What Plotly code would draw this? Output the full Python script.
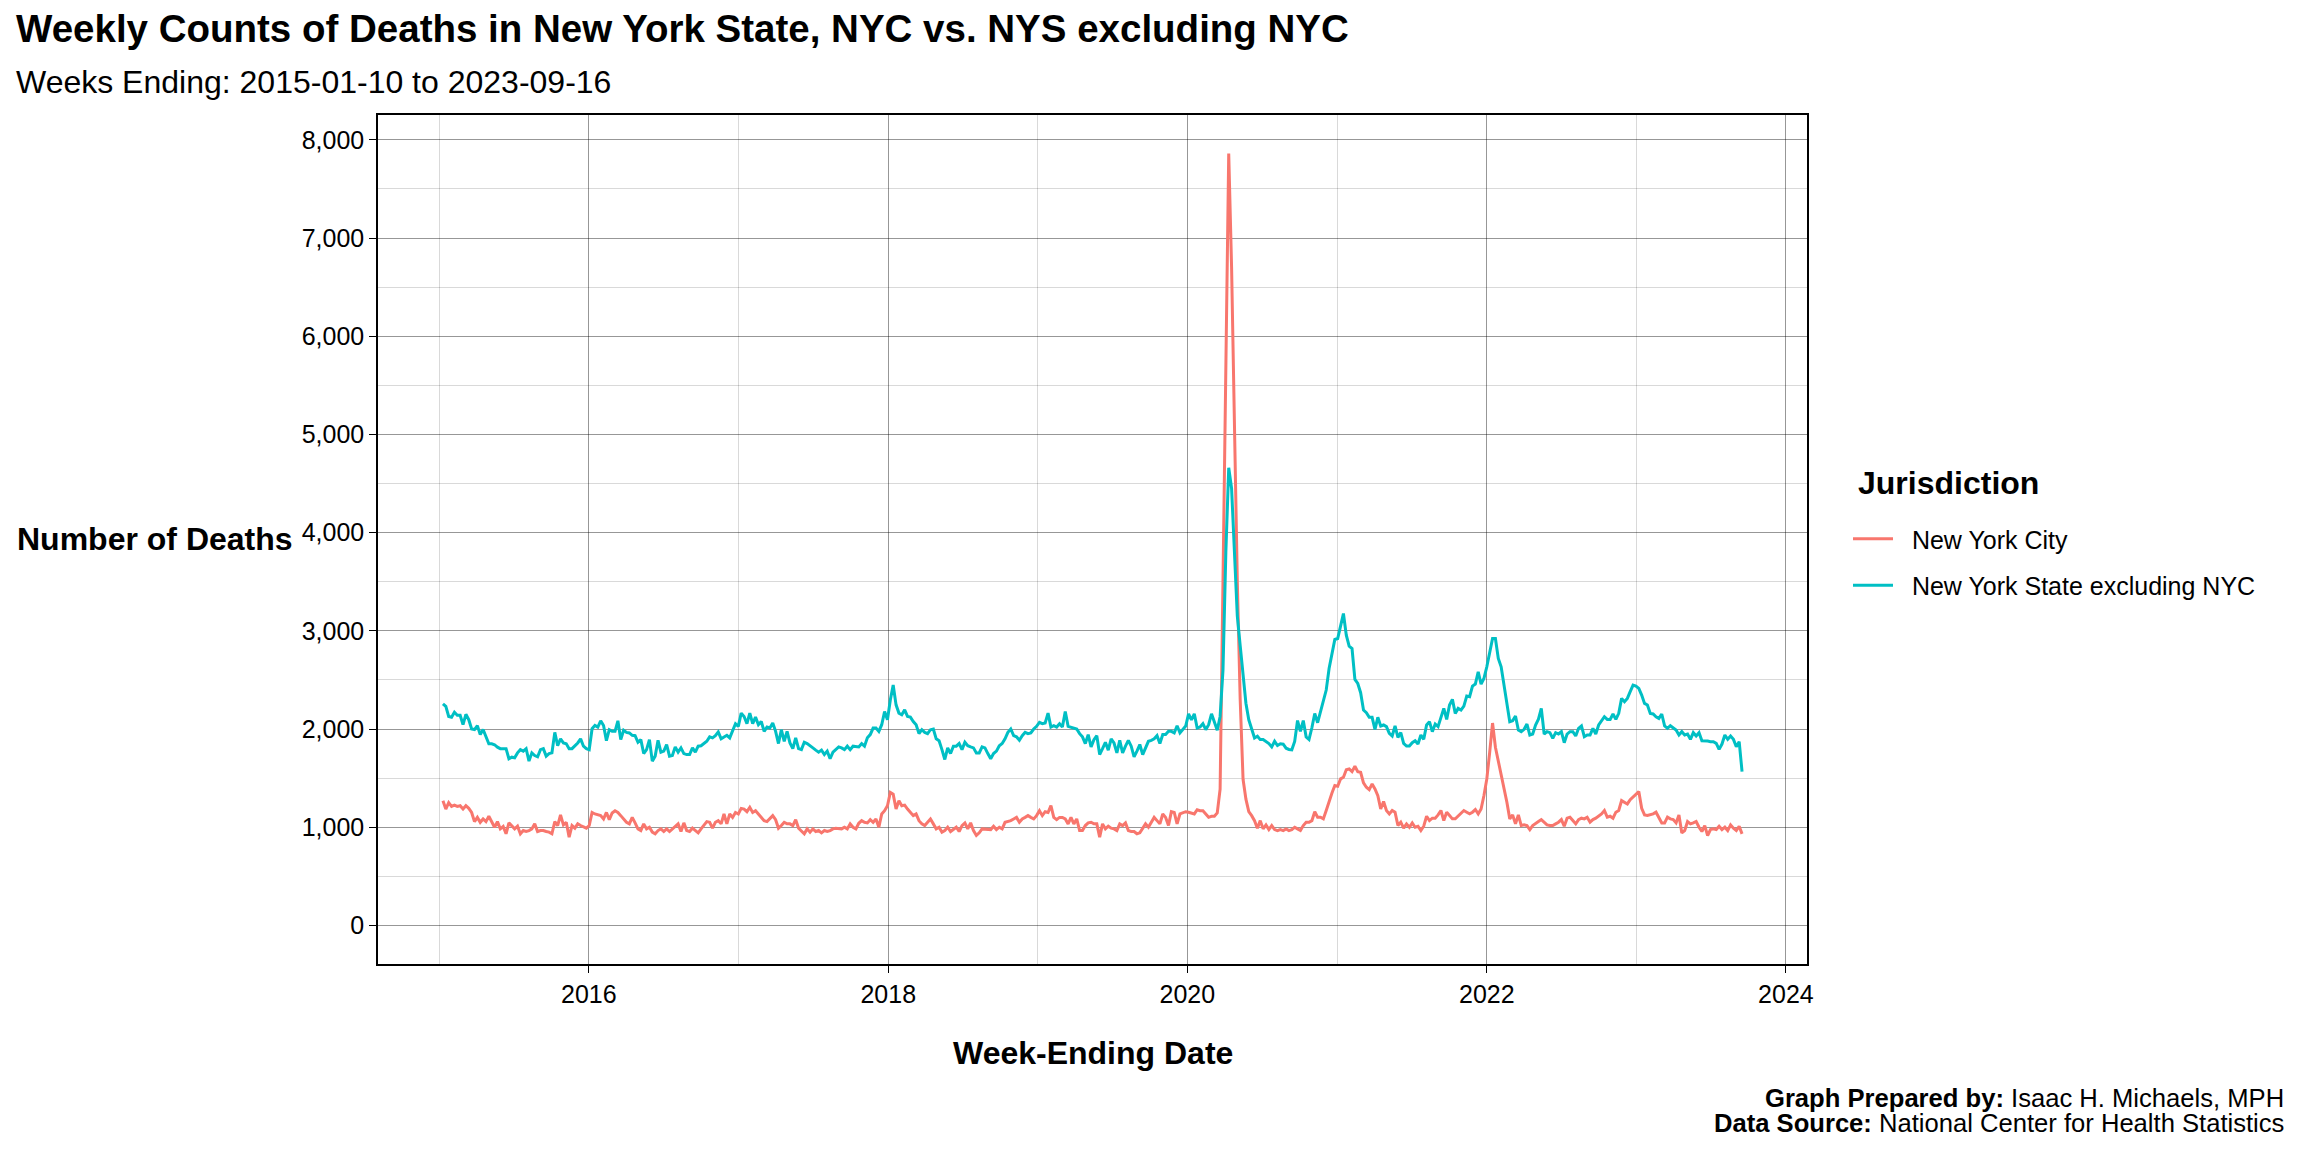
import pandas as pd
import plotly.graph_objects as go

# ---------------- data (weekly counts) ----------------
week_start = "2015-01-10"
week_end = "2023-09-16"

nyc_2015 = [1270,1185,1250,1212,1225,1212,1219,1185,1219,1192, 1150,1057,1100,1050,1084,1057,1111,1050,1000,1057,
            983,1007,933,1044,1017,983,1010,933,966,956, 966,983,1034,956,966,966,956,950,933,1057,
            1017,1125,1024,1050,899,1017,990,1034,1017,1000, 990]
nyc_2016 = [1017,1150,1135,1125,1118,1084,1150,1077,1145,1168, 1150,1118,1084,1050,1034,1100,1044,983,966,1034,
            983,1000,950,933,966,983,956,983,956,983, 1000,1034,956,1044,966,956,990,966,943,983,
            1024,1057,1050,990,1050,1067,1034,1135,1034,1135, 1100,1150,1135]
nyc_2017 = [1192,1185,1158,1202,1150,1168,1135,1100,1067,1057, 1084,1118,1077,990,1017,1050,1034,1034,1017,1077,
            990,966,933,983,950,983,956,966,943,966, 956,966,983,990,983,983,1000,983,1034,1000,
            983,1040,1067,1050,1044,1077,1050,1084,1000,1135, 1168,1219]
nyc_2018 = [1354,1337,1185,1270,1219,1225,1185,1150,1118,1135, 1067,1034,1017,1050,1084,1034,983,1000,950,966,
            1000,956,983,1000,956,1017,1044,983,1044,966, 916,943,983,983,983,976,1010,976,1000,983,
            1050,1057,1067,1084,1100,1050,1084,1100,1118,1100, 1084,1118]
nyc_2019 = [1168,1118,1158,1150,1219,1100,1077,1100,1100,1084, 1034,1100,1034,1084,966,966,1017,1044,1050,1034,
            1034,899,1034,983,1010,990,983,966,1034,1017, 1044,966,956,956,933,943,983,1034,1000,1050,
            1100,1067,1034,1135,1100,1017,1158,1150,1034,1135, 1145,1158]
nyc_2020 = [1152,1145,1135,1178,1168,1168,1135,1101,1111,1111, 1145,1387,3500,5700,7860,6700,5000,3500,2300,1488,
            1286,1158,1118,1067,990,1067,983,1024,976,1017, 976,966,976,966,983,966,976,1000,983,966,
            1017,1050,1050,1067,1158,1101,1102,1085,1170,1271, 1349,1424]
nyc_2021 = [1417,1492,1509,1586,1593,1566,1620,1566,1559,1451, 1407,1383,1441,1390,1322,1186,1261,1170,1136,1170,
            1153,1017,1051,990,1034,1000,1044,1000,1010,966, 1010,1112,1068,1092,1092,1125,1170,1068,1153,1119,
            1085,1085,1112,1146,1170,1153,1136,1153,1180,1136, 1186,1322]
nyc_2022 = [1492,1763,2061,1814,1678,1525,1390,1254,1085,1125, 1034,1125,1017,1024,1017,976,1017,1034,1058,1078,
            1051,1024,1017,1017,1034,1051,1078,1010,1092,1102, 1068,1034,1078,1092,1085,1102,1051,1078,1092,1112,
            1136,1170,1102,1112,1092,1153,1170,1271,1254,1237, 1281,1305,1339]
nyc_2023 = [1363,1193,1125,1119,1125,1136,1153,1092,1044,1044, 1102,1085,1078,1044,1125,942,966,1058,1034,1044,
            1058,1000,956,1017,915,976,983,976,1010,976, 1000,966,1024,990,966,1010,932]

nys_2015 = [2256,2230,2128,2120,2170,2140,2140,2045,2150,2095, 2000,1995,2035,1943,1995,1920,1850,1850,1840,1815,
            1800,1800,1800,1697,1713,1707,1757,1790,1775,1800, 1673,1757,1730,1717,1790,1800,1724,1750,1757,1966,
            1830,1900,1858,1850,1800,1800,1825,1858,1900,1825, 1800]
nys_2016 = [1790,2003,2037,2020,2084,2035,1882,1993,1976,1976, 2084,1892,1987,1966,1960,1936,1932,1865,1892,1750,
            1790,1892,1673,1724,1885,1764,1775,1842,1724,1730, 1818,1764,1808,1750,1740,1740,1808,1764,1825,1830,
            1850,1875,1920,1910,1932,1970,1900,1920,1936,1910, 1993,2054,2027]
nys_2017 = [2162,2128,2054,2162,2054,2121,2044,2077,1976,2020, 2010,2061,1976,1852,1993,1875,1976,1858,1800,1910,
            1800,1790,1865,1852,1825,1808,1785,1764,1785,1740, 1775,1697,1764,1790,1818,1808,1790,1825,1790,1825,
            1825,1818,1852,1825,1910,1943,2010,2010,1976,2044, 2178,2094]
nys_2018 = [2296,2448,2246,2162,2145,2195,2128,2121,2077,2044, 1953,1993,1966,1953,1993,2000,1900,1880,1790,1690,
            1808,1750,1825,1825,1852,1790,1865,1830,1818,1808, 1757,1757,1818,1808,1750,1697,1750,1775,1830,1852,
            1900,1966,2000,1932,1920,1885,1932,1966,1953,1960, 2000,2027]
nys_2019 = [2067,2054,2061,2162,2020,2034,2020,2054,2020,2178, 2027,2020,2010,2000,1953,1920,1852,1943,1818,1892,
            1932,1740,1800,1865,1785,1900,1858,1757,1885,1757, 1825,1885,1825,1717,1775,1842,1740,1808,1875,1885,
            1900,1932,1852,1943,1943,1976,1976,1960,2034,1960, 2000,2030]
nys_2020 = [2155,2094,2155,2010,2020,2054,1993,2044,2155,2067, 1987,2128,2600,3800,4660,4450,3850,3150,2850,2532,
            2263,2094,1993,1909,1926,1892,1892,1875,1852,1818, 1875,1832,1850,1845,1805,1792,1788,1873,2086,1975,
            2086,1920,1893,2013,2158,2064,2186,2295,2397,2617, 2753,2912]
nys_2021 = [2922,3041,3176,2956,2844,2820,2505,2464,2370,2193, 2166,2119,2119,1997,2119,2031,2041,2024,1956,1929,
            2031,1915,1963,1854,1827,1827,1861,1881,1847,1939, 1895,2041,2075,1973,2051,2024,2119,2210,2098,2244,
            2302,2159,2210,2193,2234,2336,2329,2437,2458,2583, 2458,2515]
nys_2022 = [2634,2786,2922,2922,2719,2634,2431,2244,2075,2085, 2132,1990,1973,1997,2051,1939,1949,2041,2100,2210,
            1949,1973,1963,1905,1963,1949,1973,1861,1949,1973, 1973,1929,2007,2031,1922,1939,1939,2007,1949,2041,
            2085,2125,2098,2098,2153,2098,2159,2312,2278,2312, 2380,2447,2437]
nys_2023 = [2414,2346,2261,2244,2159,2153,2125,2108,2153,2031, 2007,2034,2007,1990,1939,1973,1939,1949,1895,1963,
            1929,1963,1881,1881,1878,1871,1871,1854,1793,1847, 1939,1895,1929,1895,1820,1871,1566]

series_names = ["New York City", "New York State excluding NYC"]
series_colors = ["#F8766D", "#00BFC4"]
x_tick_labels = ["2016", "2018", "2020", "2022", "2024"]
y_tick_values = [0, 1000, 2000, 3000, 4000, 5000, 6000, 7000, 8000]

nyc = nyc_2015 + nyc_2016 + nyc_2017 + nyc_2018 + nyc_2019 + nyc_2020 + nyc_2021 + nyc_2022 + nyc_2023
nys = nys_2015 + nys_2016 + nys_2017 + nys_2018 + nys_2019 + nys_2020 + nys_2021 + nys_2022 + nys_2023
dates = pd.date_range(week_start, week_end, freq="7D")
assert len(dates) == len(nyc) == len(nys), (len(dates), len(nyc), len(nys))

# ---------------- layout geometry (page has an 8px body margin) ----------------
OFF = 8
W, H = 2304 - 2 * OFF, 1152 - 2 * OFF
# plot panel edges in screen pixels of the reference
L, R, T, B = 378 - OFF, 1807 - OFF, 115 - OFF, 964 - OFF
FONT = "Liberation Sans, Arial, Helvetica, sans-serif"


def px_x(px):
    return (px - OFF - L) / (R - L)


def px_y(py):
    return (B - (py - OFF)) / (B - T)


span = dates[-1] - dates[0]
x_range = [dates[0] - 0.05 * span, dates[-1] + 0.05 * span]
ymax = max(max(nyc), max(nys))
y_range = [-0.05 * ymax, 1.05 * ymax]

fig = go.Figure()
for name, vals, col in zip(series_names, [nyc, nys], series_colors):
    fig.add_trace(go.Scatter(x=dates, y=vals, mode="lines",
                             name="\u00a0\u00a0" + name,
                             legendgroup=name,
                             line=dict(color=col, width=3)))

major_grid = "rgba(0,0,0,0.30)"
minor_grid = "rgba(0,0,0,0.15)"

fig.update_layout(
    width=W, height=H,
    margin=dict(l=L, r=W - R, t=T, b=H - B, autoexpand=False),
    paper_bgcolor="white", plot_bgcolor="white",
    font=dict(family=FONT, size=25, color="black"),
    showlegend=True,
    legend=dict(
        xref="container", yref="container",
        x=(1848 - OFF) / W, y=1 - (516 - OFF) / H, xanchor="left", yanchor="top",
        font=dict(size=25, family=FONT),
        tracegroupgap=11, itemwidth=40,
        bgcolor="rgba(0,0,0,0)",
    ),
    xaxis=dict(
        type="date", range=x_range,
        tickvals=[pd.Timestamp(f"{y}-01-01") for y in x_tick_labels],
        ticktext=x_tick_labels,
        ticks="outside", ticklen=7, tickwidth=1.3, tickcolor="black",
        tickfont=dict(size=25, color="black"),
        showgrid=True, gridcolor=major_grid, gridwidth=1.2,
        minor=dict(tickvals=[pd.Timestamp(f"{y}-01-01") for y in range(2015, 2025)],
                   showgrid=True, gridcolor=minor_grid, gridwidth=1, ticks=""),
        showline=True, mirror=True, linecolor="black", linewidth=1.5,
        zeroline=False,
    ),
    yaxis=dict(
        range=y_range,
        tickvals=y_tick_values, tickformat=",d",
        ticks="outside", ticklen=7, tickwidth=1.3, tickcolor="black",
        tickfont=dict(size=25, color="black"),
        showgrid=True, gridcolor=major_grid, gridwidth=1.2,
        minor=dict(dtick=500, showgrid=True, gridcolor=minor_grid, gridwidth=1, ticks=""),
        showline=True, mirror=True, linecolor="black", linewidth=1.5,
        zeroline=False,
    ),
)

ann = []
ann.append(dict(text="<b>Weekly Counts of Deaths in New York State, NYC vs. NYS excluding NYC</b>",
                x=px_x(14), y=px_y(29), xanchor="left", yanchor="middle",
                font=dict(size=38.5, family=FONT)))
ann.append(dict(text="Weeks Ending: 2015-01-10 to 2023-09-16",
                x=px_x(14), y=px_y(82), xanchor="left", yanchor="middle",
                font=dict(size=32, family=FONT)))
ann.append(dict(text="<b>Number of Deaths</b>",
                x=px_x(15), y=px_y(539), xanchor="left", yanchor="middle",
                font=dict(size=32, family=FONT)))
ann.append(dict(text="<b>Week-Ending Date</b>",
                x=0.5, y=px_y(1053), xanchor="center", yanchor="middle",
                font=dict(size=32, family=FONT)))
ann.append(dict(text="<b>Jurisdiction</b>",
                x=px_x(1856), y=px_y(483), xanchor="left", yanchor="middle",
                font=dict(size=32, family=FONT)))
ann.append(dict(text="<b>Graph Prepared by:</b> Isaac H. Michaels, MPH",
                x=px_x(2286), y=px_y(1098), xanchor="right", yanchor="middle",
                font=dict(size=25.6, family=FONT)))
ann.append(dict(text="<b>Data Source:</b> National Center for Health Statistics",
                x=px_x(2286), y=px_y(1123), xanchor="right", yanchor="middle",
                font=dict(size=25.6, family=FONT)))
for a in ann:
    a.update(xref="paper", yref="paper", showarrow=False)
fig.update_layout(annotations=ann)

fig.write_html("out.html")
